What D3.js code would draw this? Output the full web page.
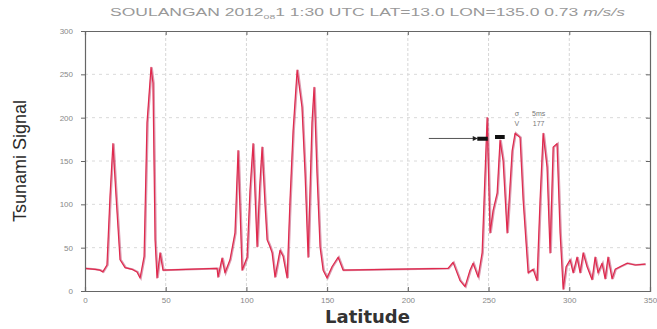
<!DOCTYPE html>
<html>
<head>
<meta charset="utf-8">
<script src="https://cdn.jsdelivr.net/npm/d3@7"></script>
<style>
  html, body { margin: 0; padding: 0; background: #fff; }
  svg { display: block; }
</style>
</head>
<body>
<svg id="chart" width="657" height="329"></svg>
<script>
// Latitude samples and the tsunami signal along them
const latitude = [
  0, 6.2, 9.3, 11, 13.6, 15.5, 17.3, 19.2, 21.7, 24.8, 29.1, 32.2, 34.1, 36.6,
  38.4, 40.9, 42.1, 43.4, 44.6, 46.5, 48.3, 81.8, 82.4, 84.9, 86.7, 89.8, 92.9,
  94.8, 97.3, 100.4, 102.2, 104.1, 106.6, 108.2, 109.7, 111.5, 112.8, 114.6,
  115.9, 117.7, 120.8, 122.7, 125.2, 127, 128.9, 131.4, 134.4, 136.3, 138.2,
  140.6, 141.9, 143.7, 145.6, 147.5, 149.9, 153, 156.8, 159.9, 224.9, 228,
  232.3, 235.4, 238.5, 240.4, 243.5, 246, 247.2, 249.1, 250.9, 252.8, 255.3,
  257.1, 259, 261.5, 264.6, 266.4, 269.5, 271.4, 274.5, 277.6, 280, 281.9,
  283.8, 286.2, 288.1, 290, 292.4, 294.3, 296.2, 298, 300.5, 302.4, 304.8,
  306.7, 308.6, 311, 314.1, 316, 317.8, 320.3, 322.2, 324, 326.5, 328.4,
  331.5, 335.8, 340.8, 347
];
const signal = [
  26, 25, 24, 22, 30, 110, 170, 110, 36, 27, 25, 22, 15, 40,
  194, 258, 240, 59, 15, 44, 24, 26, 16, 38, 21, 36, 67,
  162, 24, 39, 116, 170, 51, 120, 166, 100, 59, 51,
  44, 16, 47, 40, 15, 105, 185, 255, 212, 136, 39,
  194, 235, 136, 51, 24, 15, 28, 39, 24, 26, 33,
  12, 5, 24, 32, 16, 44, 105, 200, 67, 93, 113,
  174, 150, 67, 162, 182, 177, 105, 21, 25, 12, 105,
  182, 143, 44, 166, 170, 67, 2, 28, 36, 21, 39,
  21, 44, 28, 13, 39, 21, 32, 14, 39, 14, 25,
  28, 32, 30, 31
];
const xTicks = [0, 50, 100, 150, 200, 250, 300, 350];
const yTicks = [0, 50, 100, 150, 200, 250, 300];

// Marker glyphs and their readouts next to the eastern peaks
const markerGlyphs = ["σ", "V"];
const markerValues = ["5ms", "177"];

const svg = d3.select("#chart");
const m = { left: 85, right: 7, top: 31, bottom: 38 };
const W = 657, H = 329;

const x = d3.scaleLinear().domain([0, 350]).range([m.left, W - m.right]);
const y = d3.scaleLinear().domain([0, 300]).range([H - m.bottom, m.top]);

// grid
const grid = svg.append("g");
grid.selectAll("line.gx").data(xTicks.slice(1, -1)).join("line")
  .attr("x1", d => x(d)).attr("x2", d => x(d))
  .attr("y1", y(0)).attr("y2", y(300))
  .attr("stroke", "#d6d6d6").attr("stroke-width", 1)
  .attr("stroke-dasharray", "3,2");
grid.selectAll("line.gy").data(yTicks.slice(1, -1)).join("line")
  .attr("x1", x(0)).attr("x2", x(350))
  .attr("y1", d => y(d)).attr("y2", d => y(d))
  .attr("stroke", "#dadada").attr("stroke-width", 1)
  .attr("stroke-dasharray", "3,4");

// signal trace
const line = d3.line()
  .x((d, i) => x(latitude[i]))
  .y(d => y(d));
svg.append("path").datum(signal)
  .attr("d", line)
  .attr("fill", "none")
  .attr("stroke", "#b8335e")
  .attr("stroke-width", 2)
  .attr("stroke-opacity", 0.5)
  .attr("transform", "translate(0.8,0)");
svg.append("path").datum(signal)
  .attr("d", line)
  .attr("fill", "none")
  .attr("stroke", "#e0294d")
  .attr("stroke-width", 1.2)
  .attr("stroke-linejoin", "round");

// axes (box style with inward ticks)
const axCol = "#666";
const axBottom = svg.append("g").attr("transform", `translate(0,${y(0)})`)
  .call(d3.axisBottom(x).tickValues(xTicks).tickSize(-4).tickPadding(6));
const axTop = svg.append("g").attr("transform", `translate(0,${y(300)})`)
  .call(d3.axisTop(x).tickValues(xTicks).tickSize(-4).tickFormat(""));
const axLeft = svg.append("g").attr("transform", `translate(${x(0)},0)`)
  .call(d3.axisLeft(y).tickValues(yTicks).tickSize(4).tickPadding(8));
const axRight = svg.append("g").attr("transform", `translate(${x(350)},0)`)
  .call(d3.axisRight(y).tickValues(yTicks).tickSize(-4).tickFormat(""));
[axBottom, axTop, axLeft, axRight].forEach(g => {
  g.select(".domain").attr("stroke", axCol).attr("stroke-width", 1.2);
  g.selectAll(".tick line").attr("stroke", axCol);
  g.selectAll("text").attr("fill", "#888").attr("font-size", 8)
    .attr("font-family", "Liberation Sans, Arial, sans-serif");
});

// title
svg.append("text")
  .attr("x", x(175)).attr("y", 16)
  .attr("text-anchor", "middle")
  .attr("font-family", "Liberation Sans, Arial, sans-serif")
  .attr("font-size", 10).attr("fill", "#999")
  .attr("textLength", 515).attr("lengthAdjust", "spacingAndGlyphs")
  .call(t => {
    t.append("tspan").text("SOULANGAN 2012");
    t.append("tspan").attr("dy", 3).attr("font-size", 6).text("08");
    t.append("tspan").attr("dy", -3).text("1 1:30 UTC LAT=13.0 LON=135.0 0.73 ");
    t.append("tspan").attr("font-style", "italic").text("m/s/s");
  });

// axis titles
svg.append("text")
  .attr("transform", `translate(26,${(y(0) + y(300)) / 2}) rotate(-90)`)
  .attr("text-anchor", "middle")
  .attr("font-family", "Liberation Sans, Arial, sans-serif")
  .attr("font-size", 18).attr("fill", "#2a2a2a")
  .text("Tsunami Signal");
svg.append("text")
  .attr("x", x(175)).attr("y", 323)
  .attr("text-anchor", "middle")
  .attr("font-family", "DejaVu Sans, sans-serif")
  .attr("font-weight", "bold")
  .attr("font-size", 18).attr("fill", "#333")
  .text("Latitude");

// arrow pointing at the first eastern peak
svg.append("defs").append("marker")
  .attr("id", "head").attr("viewBox", "0 0 10 10")
  .attr("refX", 9).attr("refY", 5)
  .attr("markerWidth", 7).attr("markerHeight", 5)
  .attr("orient", "auto")
  .append("path").attr("d", "M0,0L10,5L0,10z").attr("fill", "#222");
svg.append("line")
  .attr("x1", x(213)).attr("x2", x(243)).attr("y1", y(176)).attr("y2", y(176))
  .attr("stroke", "#555").attr("stroke-width", 1)
  .attr("marker-end", "url(#head)");
svg.append("rect")
  .attr("x", x(243)).attr("y", y(178)).attr("width", x(249.5) - x(243)).attr("height", 4)
  .attr("fill", "#111");
svg.append("rect")
  .attr("x", x(254)).attr("y", y(180)).attr("width", x(260) - x(254)).attr("height", 4)
  .attr("fill", "#111");

// marker readouts
const notes = svg.append("g")
  .attr("font-family", "Liberation Sans, Arial, sans-serif")
  .attr("font-size", 7).attr("fill", "#777");
notes.selectAll("text.g").data(markerGlyphs).join("text")
  .attr("x", x(267.5)).attr("y", (d, i) => 116 + i * 10)
  .attr("text-anchor", "middle").text(d => d);
notes.selectAll("text.v").data(markerValues).join("text")
  .attr("x", x(281)).attr("y", (d, i) => 116 + i * 10)
  .attr("text-anchor", "middle").text(d => d);
</script>
</body>
</html>
